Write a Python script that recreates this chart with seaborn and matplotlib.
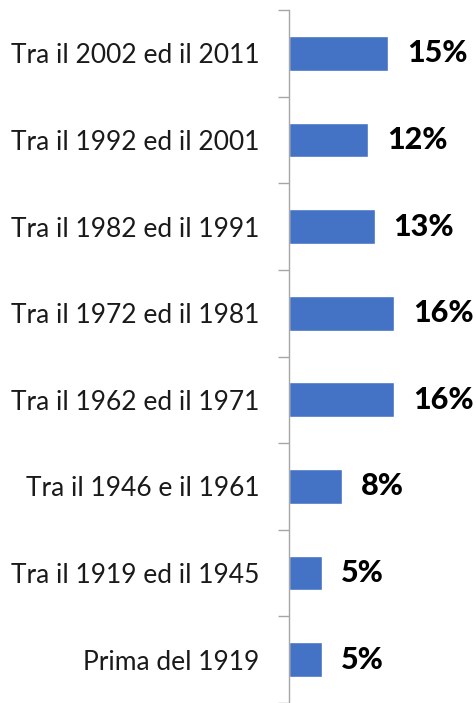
import matplotlib
matplotlib.use("Agg")
import matplotlib.pyplot as plt
import seaborn as sns
import pandas as pd
import numpy as np

periodi = [
    "Tra il 2002 ed il 2011",
    "Tra il 1992 ed il 2001",
    "Tra il 1982 ed il 1991",
    "Tra il 1972 ed il 1981",
    "Tra il 1962 ed il 1971",
    "Tra il 1946 e il 1961",
    "Tra il 1919 ed il 1945",
    "Prima del 1919",
]
percentuali = [15, 12, 13, 16, 16, 8, 5, 5]

df = pd.DataFrame({"periodo": periodi, "perc": percentuali})

sns.set_style("white")
plt.rcParams["font.family"] = ["Lato", "DejaVu Sans"]

fig = plt.figure(figsize=(4.77, 7.03), dpi=100)
# axis at x=289px, top at y=10px, bottom at figure edge
ax = fig.add_axes([289 / 477, 0.0, 184 / 477, 693 / 703])

sns.barplot(data=df, y="periodo", x="perc", orient="h", color="#4472C4",
            width=0.4, saturation=1, ax=ax)

ax.set_xlim(0, 184 / 6.58)
ax.set_ylim(len(periodi) - 0.5, -0.5)

for i, v in enumerate(percentuali):
    ax.text(v + 19 / 6.58, i, f"{v}%", va="center", ha="left",
            fontsize=22, fontweight="black", color="black")

ax.set_xlabel("")
ax.set_ylabel("")
ax.set_xticks([])

# labels between the tick marks at category boundaries
ax.set_yticks(range(len(periodi)))
ax.set_yticklabels(periodi, fontsize=19, color="#1a1a1a")
ax.tick_params(axis="y", which="major", length=0, pad=21.5)
bounds = np.arange(-0.5, len(periodi), 1.0)
ax.set_yticks(bounds, minor=True)
ax.tick_params(axis="y", which="minor", left=True, length=8, width=1,
               color="#a6a6a6", direction="out")

for s in ["top", "right", "bottom"]:
    ax.spines[s].set_visible(False)
ax.spines["left"].set_color("#a6a6a6")
ax.spines["left"].set_linewidth(1)

fig.savefig("out.png", dpi=100)
